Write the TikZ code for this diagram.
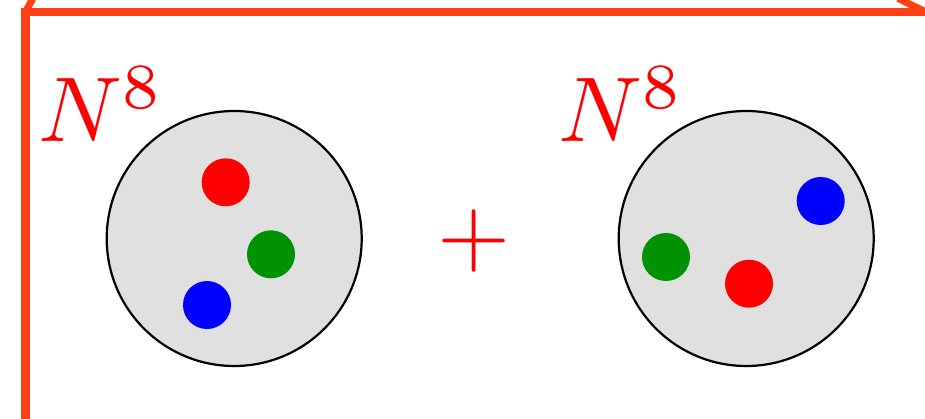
\documentclass[tikz,border=0pt]{standalone}
\definecolor{boxorange}{RGB}{255,65,20}
\definecolor{dotgreen}{RGB}{0,146,0}
\definecolor{blobgray}{RGB}{224,224,224}
\begin{document}
\begin{tikzpicture}[x=1pt,y=-1pt,
  blob/.style={circle,draw=black,line width=2.2pt,fill=blobgray,minimum size=255pt,inner sep=0pt},
  dot/.style={circle,minimum size=48pt,inner sep=0pt},
  lbl/.style={text=red,inner sep=0pt,scale=9.2,anchor=base west},
  frameline/.style={draw=boxorange,line width=8.5pt}]
\useasboundingbox (0,0) rectangle (925,419);
\clip (0,0) rectangle (925,419);
\draw[frameline] (25.5,12) rectangle (960,423);
\draw[frameline,line width=7pt] (25.5,12) -- (33,-2);
\draw[frameline,line width=7pt] (926,12) -- (898,-1.5);
% left set
\node[blob] (c1) at (234.2,238.5) {};
\node[dot,fill=red] (r1) at (225.7,182.3) {};
\node[dot,fill=dotgreen] (g1) at (271,254.3) {};
\node[dot,fill=blue] (b1) at (207,305) {};
% right set
\node[blob] (c2) at (746.2,238.5) {};
\node[dot,fill=blue] (b2) at (820.7,201) {};
\node[dot,fill=dotgreen] (g2) at (666,257) {};
\node[dot,fill=red] (r2) at (749,283.7) {};
% labels
\node[lbl] (n1) at (36.5,141.7) {$N^8$};
\node[lbl] (n2) at (557,142) {$N^8$};
\node[text=red,scale=9.4,inner sep=0pt] (plus) at (474,241.3) {$+$};
\end{tikzpicture}
\end{document}
